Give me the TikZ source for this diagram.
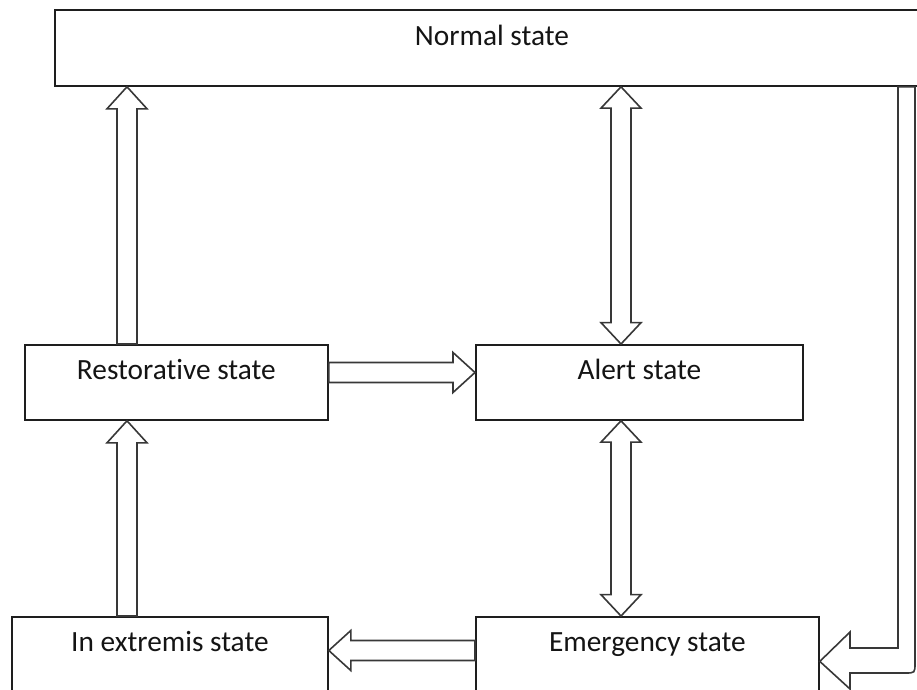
\documentclass[tikz,border=0pt]{standalone}
\usepackage{fontspec}
\setmainfont{Carlito}[Ligatures=NoCommon]
\usetikzlibrary{calc}

\definecolor{boxline}{HTML}{1E1E1E}
\definecolor{arrline}{HTML}{383838}
\definecolor{textcol}{HTML}{141414}

\tikzset{
  statebox/.style={draw=boxline, line width=1.35pt, fill=white, inner sep=0pt,
    anchor=north west, text=textcol, font=\fontsize{22}{24}\selectfont},
  arrowline/.style={draw=arrline, line width=1.2pt, fill=white, line join=miter},
}

% hollow block arrow from #1 to #2 (head at #2)
\newcommand{\blockarrow}[2]{%
  \coordinate (ba-h) at ($(#2)!16.5pt!(#1)$);
  \draw[arrowline]
    ($(#1)!7.5pt!90:(#2)$) -- ($(ba-h)!7.5pt!90:(#2)$) -- ($(ba-h)!15pt!90:(#2)$)
    -- (#2)
    -- ($(ba-h)!15pt!-90:(#2)$) -- ($(ba-h)!7.5pt!-90:(#2)$) -- ($(#1)!7.5pt!-90:(#2)$)
    -- cycle;}

% hollow block arrow with heads at both ends
\newcommand{\blockdouble}[2]{%
  \coordinate (bd-a) at ($(#1)!16pt!(#2)$);
  \coordinate (bd-b) at ($(#2)!16pt!(#1)$);
  \draw[arrowline]
    (#1) -- ($(bd-a)!15pt!90:(#2)$) -- ($(bd-a)!7.5pt!90:(#2)$)
    -- ($(bd-b)!7.5pt!90:(#2)$) -- ($(bd-b)!15pt!90:(#2)$)
    -- (#2)
    -- ($(bd-b)!15pt!-90:(#2)$) -- ($(bd-b)!7.5pt!-90:(#2)$)
    -- ($(bd-a)!7.5pt!-90:(#2)$) -- ($(bd-a)!15pt!-90:(#2)$)
    -- cycle;}

\begin{document}
\begin{tikzpicture}[x=0.75pt, y=-0.75pt]
  \useasboundingbox (0,0) rectangle (917,689);

  % state boxes (text sits near the top edge)
  \node[statebox, minimum width=655.5pt, text height=27pt, text depth=30pt]
    (normal) at (54,9) {Normal state};
  \node[statebox, minimum width=227.25pt, text height=26.25pt, text depth=30pt]
    (rest) at (24,344) {Restorative state};
  \node[statebox, minimum width=245.25pt, text height=26.25pt, text depth=30pt]
    (alert) at (475,344) {Alert state};
  \node[statebox, minimum width=237pt, text height=26.25pt, text depth=40.5pt]
    (extr) at (11,616) {In extremis state};
  \node[statebox, minimum width=257.25pt, text height=26.25pt, text depth=40.5pt]
    (emer) at (475,616) {Emergency state};

  % columns and rows the arrows run along
  \coordinate (colL) at (127,0);
  \coordinate (colM) at (621,0);
  \coordinate (rowU) at (0,372.5);
  \coordinate (rowD) at (0,650.5);

  \coordinate (a1s) at (rest.north -| colL);
  \coordinate (a1e) at (normal.south -| colL);
  \blockarrow{a1s}{a1e}

  \coordinate (a2s) at (normal.south -| colM);
  \coordinate (a2e) at (alert.north -| colM);
  \blockdouble{a2s}{a2e}

  \coordinate (a3s) at (alert.south -| colM);
  \coordinate (a3e) at (emer.north -| colM);
  \blockdouble{a3s}{a3e}

  \coordinate (a4s) at (extr.north -| colL);
  \coordinate (a4e) at (rest.south -| colL);
  \blockarrow{a4s}{a4e}

  \coordinate (a5s) at (rest.east |- rowU);
  \coordinate (a5e) at (alert.west |- rowU);
  \blockarrow{a5s}{a5e}

  \coordinate (a6s) at (emer.west |- rowD);
  \coordinate (a6e) at (extr.east |- rowD);
  \blockarrow{a6s}{a6e}

  % bent arrow from the normal state down into the emergency state
  \coordinate (bin) at (898,0);
  \coordinate (bout) at (915,0);
  \coordinate (bhead) at (850,0);
  \draw[arrowline]
    (normal.south -| bin) -- (bin |- 0,648) -- (bhead |- 0,648) -- (bhead |- 0,632)
    -- (emer.east)
    -- (bhead |- 0,689) -- (bhead |- 0,673) -- (905,673)
    .. controls (915,673) .. (915,663)
    -- (normal.south -| bout) -- cycle;
\end{tikzpicture}
\end{document}
